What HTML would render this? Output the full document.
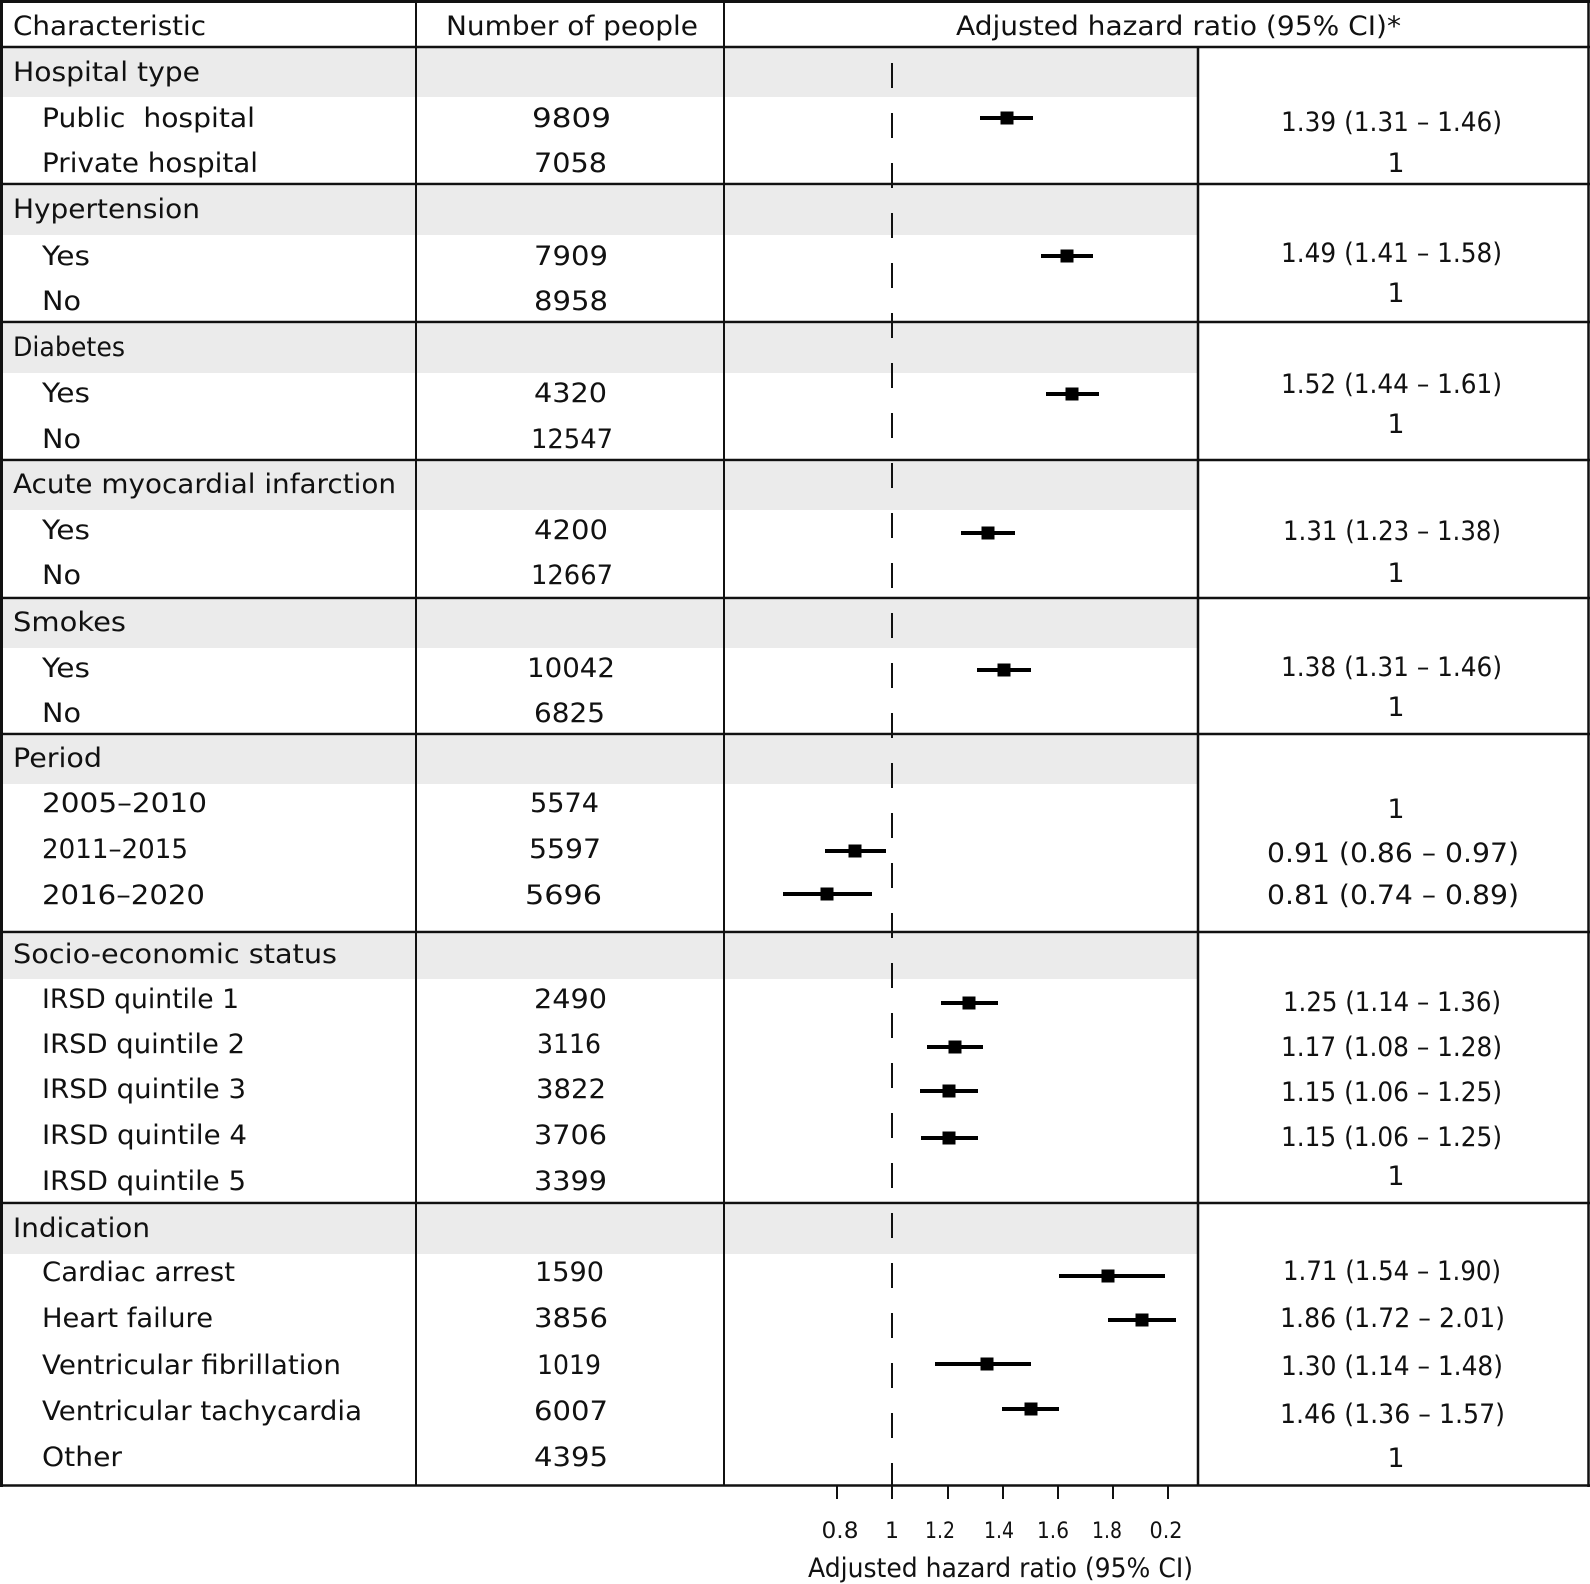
<!DOCTYPE html>
<html>
<head>
<meta charset="utf-8">
<style>
  html,body{margin:0;padding:0;background:#fff;}
  svg{display:block;}
  text{font-family:"DejaVu Sans","Liberation Sans",sans-serif;fill:#111;}
  .t{font-size:27px;}
  .k{font-size:22px;}
</style>
</head>
<body>
<svg width="1590" height="1584" viewBox="0 0 1590 1584" xmlns="http://www.w3.org/2000/svg">
  <rect x="0" y="0" width="1590" height="1584" fill="#fff"/>

  <!-- gray group header bands -->
  <g fill="#ebebeb">
    <rect x="3" y="48" width="1194" height="49"/>
    <rect x="3" y="186" width="1194" height="49"/>
    <rect x="3" y="324" width="1194" height="49"/>
    <rect x="3" y="462" width="1194" height="48"/>
    <rect x="3" y="600" width="1194" height="48"/>
    <rect x="3" y="736" width="1194" height="48"/>
    <rect x="3" y="934" width="1194" height="45"/>
    <rect x="3" y="1205" width="1194" height="49"/>
  </g>

  <!-- table lines -->
  <g stroke="#111" fill="none">
    <line x1="0" y1="1.5" x2="1590" y2="1.5" stroke-width="3"/>
    <line x1="1.5" y1="0" x2="1.5" y2="1487" stroke-width="3"/>
    <line x1="1588.5" y1="0" x2="1588.5" y2="1487" stroke-width="2.5"/>
    <line x1="0" y1="47" x2="1590" y2="47" stroke-width="2.5"/>
    <line x1="0" y1="184" x2="1590" y2="184" stroke-width="2.5"/>
    <line x1="0" y1="322" x2="1590" y2="322" stroke-width="2.5"/>
    <line x1="0" y1="460" x2="1590" y2="460" stroke-width="2.5"/>
    <line x1="0" y1="598" x2="1590" y2="598" stroke-width="2.5"/>
    <line x1="0" y1="734" x2="1590" y2="734" stroke-width="2.5"/>
    <line x1="0" y1="932" x2="1590" y2="932" stroke-width="2.5"/>
    <line x1="0" y1="1203" x2="1590" y2="1203" stroke-width="2.5"/>
    <line x1="0" y1="1485.5" x2="1590" y2="1485.5" stroke-width="2.5"/>
    <line x1="416" y1="0" x2="416" y2="1486" stroke-width="2"/>
    <line x1="724" y1="0" x2="724" y2="1486" stroke-width="2"/>
    <line x1="1198" y1="47" x2="1198" y2="1486" stroke-width="2.5"/>
  </g>

  <!-- reference dashed line at HR = 1 -->
  <line x1="892" y1="63" x2="892" y2="1487" stroke="#111" stroke-width="2" stroke-dasharray="25 25"/>

  <!-- axis ticks -->
  <g stroke="#111" stroke-width="2">
    <line x1="837" y1="1486" x2="837" y2="1499"/>
    <line x1="892" y1="1486" x2="892" y2="1499"/>
    <line x1="948" y1="1486" x2="948" y2="1499"/>
    <line x1="1003" y1="1486" x2="1003" y2="1499"/>
    <line x1="1058" y1="1486" x2="1058" y2="1499"/>
    <line x1="1113" y1="1486" x2="1113" y2="1499"/>
    <line x1="1168" y1="1486" x2="1168" y2="1499"/>
  </g>

  <!-- forest markers: CI lines -->
  <g fill="#000">
    <rect x="980" y="116" width="53" height="4"/>
    <rect x="1041" y="254" width="52" height="4"/>
    <rect x="1046" y="392" width="53" height="4"/>
    <rect x="961" y="531" width="54" height="4"/>
    <rect x="977" y="668" width="54" height="4"/>
    <rect x="825" y="849" width="61" height="4"/>
    <rect x="783" y="892" width="89" height="4"/>
    <rect x="941" y="1001" width="57" height="4"/>
    <rect x="927" y="1045" width="56" height="4"/>
    <rect x="920" y="1089" width="58" height="4"/>
    <rect x="921" y="1136" width="57" height="4"/>
    <rect x="1059" y="1274" width="106" height="4"/>
    <rect x="1108" y="1318" width="68" height="4"/>
    <rect x="935" y="1362" width="96" height="4"/>
    <rect x="1002" y="1407" width="57" height="4"/>
  </g>
  <!-- forest markers: squares -->
  <g fill="#000">
    <rect x="1000.5" y="111.5" width="13" height="13"/>
    <rect x="1060.5" y="249.5" width="13" height="13"/>
    <rect x="1065.5" y="387.5" width="13" height="13"/>
    <rect x="981.5" y="526.5" width="13" height="13"/>
    <rect x="997.5" y="663.5" width="13" height="13"/>
    <rect x="848.5" y="844.5" width="13" height="13"/>
    <rect x="820.5" y="887.5" width="13" height="13"/>
    <rect x="962.5" y="996.5" width="13" height="13"/>
    <rect x="948.5" y="1040.5" width="13" height="13"/>
    <rect x="942.5" y="1084.5" width="13" height="13"/>
    <rect x="942.5" y="1131.5" width="13" height="13"/>
    <rect x="1101.5" y="1269.5" width="13" height="13"/>
    <rect x="1135.5" y="1313.5" width="13" height="13"/>
    <rect x="980.5" y="1357.5" width="13" height="13"/>
    <rect x="1024.5" y="1402.5" width="13" height="13"/>
  </g>

  <!-- header -->
  <g class="t">
    <text x="13" y="35" textLength="193" lengthAdjust="spacingAndGlyphs">Characteristic</text>
    <text x="446" y="35" textLength="252" lengthAdjust="spacingAndGlyphs">Number of people</text>
    <text x="956" y="35" textLength="445" lengthAdjust="spacingAndGlyphs">Adjusted hazard ratio (95% CI)*</text>
  </g>

  <!-- left labels -->
  <g class="t">
    <text x="13" y="81" textLength="187" lengthAdjust="spacingAndGlyphs">Hospital type</text>
    <text x="42" y="127" textLength="213" lengthAdjust="spacingAndGlyphs">Public&#160; hospital</text>
    <text x="42" y="172" textLength="216" lengthAdjust="spacingAndGlyphs">Private hospital</text>

    <text x="13" y="218" textLength="187" lengthAdjust="spacingAndGlyphs">Hypertension</text>
    <text x="42" y="265" textLength="48" lengthAdjust="spacingAndGlyphs">Yes</text>
    <text x="42" y="310" textLength="39" lengthAdjust="spacingAndGlyphs">No</text>

    <text x="13" y="356" textLength="112" lengthAdjust="spacingAndGlyphs">Diabetes</text>
    <text x="42" y="402" textLength="48" lengthAdjust="spacingAndGlyphs">Yes</text>
    <text x="42" y="448" textLength="39" lengthAdjust="spacingAndGlyphs">No</text>

    <text x="13" y="493" textLength="383" lengthAdjust="spacingAndGlyphs">Acute myocardial infarction</text>
    <text x="42" y="539" textLength="48" lengthAdjust="spacingAndGlyphs">Yes</text>
    <text x="42" y="584" textLength="39" lengthAdjust="spacingAndGlyphs">No</text>

    <text x="13" y="631" textLength="113" lengthAdjust="spacingAndGlyphs">Smokes</text>
    <text x="42" y="677" textLength="48" lengthAdjust="spacingAndGlyphs">Yes</text>
    <text x="42" y="722" textLength="39" lengthAdjust="spacingAndGlyphs">No</text>

    <text x="13" y="767" textLength="89" lengthAdjust="spacingAndGlyphs">Period</text>
    <text x="42" y="812" textLength="165" lengthAdjust="spacingAndGlyphs">2005–2010</text>
    <text x="42" y="858" textLength="146" lengthAdjust="spacingAndGlyphs">2011–2015</text>
    <text x="42" y="904" textLength="163" lengthAdjust="spacingAndGlyphs">2016–2020</text>

    <text x="13" y="963" textLength="324" lengthAdjust="spacingAndGlyphs">Socio-economic status</text>
    <text x="42" y="1008" textLength="197" lengthAdjust="spacingAndGlyphs">IRSD quintile 1</text>
    <text x="42" y="1053" textLength="203" lengthAdjust="spacingAndGlyphs">IRSD quintile 2</text>
    <text x="42" y="1098" textLength="204" lengthAdjust="spacingAndGlyphs">IRSD quintile 3</text>
    <text x="42" y="1144" textLength="205" lengthAdjust="spacingAndGlyphs">IRSD quintile 4</text>
    <text x="42" y="1190" textLength="204" lengthAdjust="spacingAndGlyphs">IRSD quintile 5</text>

    <text x="13" y="1237" textLength="137" lengthAdjust="spacingAndGlyphs">Indication</text>
    <text x="42" y="1281" textLength="193" lengthAdjust="spacingAndGlyphs">Cardiac arrest</text>
    <text x="42" y="1327" textLength="171" lengthAdjust="spacingAndGlyphs">Heart failure</text>
    <text x="42" y="1374" textLength="299" lengthAdjust="spacingAndGlyphs">Ventricular fibrillation</text>
    <text x="42" y="1420" textLength="320" lengthAdjust="spacingAndGlyphs">Ventricular tachycardia</text>
    <text x="42" y="1466" textLength="80" lengthAdjust="spacingAndGlyphs">Other</text>
  </g>

  <!-- numbers -->
  <g class="t">
    <text x="532" y="127" textLength="79" lengthAdjust="spacingAndGlyphs">9809</text>
    <text x="534" y="172" textLength="73" lengthAdjust="spacingAndGlyphs">7058</text>
    <text x="534" y="265" textLength="74" lengthAdjust="spacingAndGlyphs">7909</text>
    <text x="534" y="310" textLength="74" lengthAdjust="spacingAndGlyphs">8958</text>
    <text x="534" y="402" textLength="73" lengthAdjust="spacingAndGlyphs">4320</text>
    <text x="531" y="448" textLength="82" lengthAdjust="spacingAndGlyphs">12547</text>
    <text x="534" y="539" textLength="74" lengthAdjust="spacingAndGlyphs">4200</text>
    <text x="531" y="584" textLength="82" lengthAdjust="spacingAndGlyphs">12667</text>
    <text x="527" y="677" textLength="88" lengthAdjust="spacingAndGlyphs">10042</text>
    <text x="534" y="722" textLength="71" lengthAdjust="spacingAndGlyphs">6825</text>
    <text x="530" y="812" textLength="69" lengthAdjust="spacingAndGlyphs">5574</text>
    <text x="529" y="858" textLength="72" lengthAdjust="spacingAndGlyphs">5597</text>
    <text x="525" y="904" textLength="77" lengthAdjust="spacingAndGlyphs">5696</text>
    <text x="534" y="1008" textLength="73" lengthAdjust="spacingAndGlyphs">2490</text>
    <text x="537" y="1053" textLength="64" lengthAdjust="spacingAndGlyphs">3116</text>
    <text x="536" y="1098" textLength="70" lengthAdjust="spacingAndGlyphs">3822</text>
    <text x="534" y="1144" textLength="73" lengthAdjust="spacingAndGlyphs">3706</text>
    <text x="534" y="1190" textLength="73" lengthAdjust="spacingAndGlyphs">3399</text>
    <text x="535" y="1281" textLength="69" lengthAdjust="spacingAndGlyphs">1590</text>
    <text x="534" y="1327" textLength="74" lengthAdjust="spacingAndGlyphs">3856</text>
    <text x="537" y="1374" textLength="64" lengthAdjust="spacingAndGlyphs">1019</text>
    <text x="534" y="1420" textLength="74" lengthAdjust="spacingAndGlyphs">6007</text>
    <text x="534" y="1466" textLength="74" lengthAdjust="spacingAndGlyphs">4395</text>
  </g>

  <!-- CI column -->
  <g class="t">
    <text x="1281" y="131" textLength="221" lengthAdjust="spacingAndGlyphs">1.39 (1.31 – 1.46)</text>
    <text x="1396" y="172" text-anchor="middle">1</text>
    <text x="1281" y="262" textLength="221" lengthAdjust="spacingAndGlyphs">1.49 (1.41 – 1.58)</text>
    <text x="1396" y="302" text-anchor="middle">1</text>
    <text x="1281" y="393" textLength="221" lengthAdjust="spacingAndGlyphs">1.52 (1.44 – 1.61)</text>
    <text x="1396" y="433" text-anchor="middle">1</text>
    <text x="1283" y="540" textLength="218" lengthAdjust="spacingAndGlyphs">1.31 (1.23 – 1.38)</text>
    <text x="1396" y="582" text-anchor="middle">1</text>
    <text x="1281" y="676" textLength="221" lengthAdjust="spacingAndGlyphs">1.38 (1.31 – 1.46)</text>
    <text x="1396" y="716" text-anchor="middle">1</text>
    <text x="1396" y="818" text-anchor="middle">1</text>
    <text x="1267" y="862" textLength="252" lengthAdjust="spacingAndGlyphs">0.91 (0.86 – 0.97)</text>
    <text x="1267" y="904" textLength="252" lengthAdjust="spacingAndGlyphs">0.81 (0.74 – 0.89)</text>
    <text x="1283" y="1011" textLength="218" lengthAdjust="spacingAndGlyphs">1.25 (1.14 – 1.36)</text>
    <text x="1281" y="1056" textLength="221" lengthAdjust="spacingAndGlyphs">1.17 (1.08 – 1.28)</text>
    <text x="1281" y="1101" textLength="221" lengthAdjust="spacingAndGlyphs">1.15 (1.06 – 1.25)</text>
    <text x="1281" y="1146" textLength="221" lengthAdjust="spacingAndGlyphs">1.15 (1.06 – 1.25)</text>
    <text x="1396" y="1185" text-anchor="middle">1</text>
    <text x="1283" y="1280" textLength="218" lengthAdjust="spacingAndGlyphs">1.71 (1.54 – 1.90)</text>
    <text x="1280" y="1327" textLength="225" lengthAdjust="spacingAndGlyphs">1.86 (1.72 – 2.01)</text>
    <text x="1281" y="1375" textLength="222" lengthAdjust="spacingAndGlyphs">1.30 (1.14 – 1.48)</text>
    <text x="1280" y="1423" textLength="225" lengthAdjust="spacingAndGlyphs">1.46 (1.36 – 1.57)</text>
    <text x="1396" y="1467" text-anchor="middle">1</text>
  </g>

  <!-- tick labels -->
  <g class="k" text-anchor="middle">
    <text x="840" y="1538" textLength="37" lengthAdjust="spacingAndGlyphs">0.8</text>
    <text x="892" y="1538">1</text>
    <text x="940" y="1538" textLength="30" lengthAdjust="spacingAndGlyphs">1.2</text>
    <text x="999" y="1538" textLength="30" lengthAdjust="spacingAndGlyphs">1.4</text>
    <text x="1053" y="1538" textLength="32" lengthAdjust="spacingAndGlyphs">1.6</text>
    <text x="1107" y="1538" textLength="30" lengthAdjust="spacingAndGlyphs">1.8</text>
    <text x="1166" y="1538" textLength="33" lengthAdjust="spacingAndGlyphs">0.2</text>
  </g>

  <!-- axis title -->
  <text class="t" x="808" y="1577" textLength="385" lengthAdjust="spacingAndGlyphs">Adjusted hazard ratio (95% CI)</text>
</svg>
</body>
</html>
